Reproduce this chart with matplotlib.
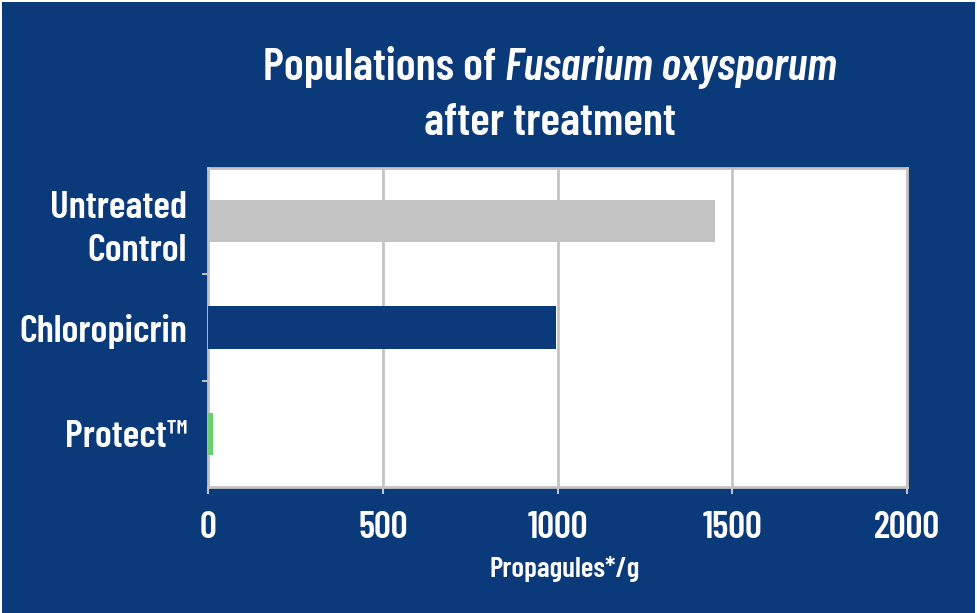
import matplotlib.pyplot as plt
from matplotlib.patches import Rectangle

# Data.
categories = ["Untreated\nControl", "Chloropicrin", "Protect\u2122"]
propagules = [1450, 995, 15]
bar_colors = ["#c3c3c3", "#0b3a7a", "#6ccf6c"]
x_ticks = [0, 500, 1000, 1500, 2000]

bg = "#0b3a7a"
grid_gray = "#c4c4c4"
plt.rcParams["font.family"] = ["Barlow Condensed", "DejaVu Sans"]

fig = plt.figure(figsize=(9.77, 6.13), dpi=100, facecolor="white")
# blue panel with a thin white edge at top and left
fig.patches.append(Rectangle((2 / 977, 0), 973 / 977, 611 / 613, transform=fig.transFigure,
                             facecolor=bg, edgecolor="none", zorder=-10))

ax = fig.add_axes([0.2129, 0.2055, 0.7155, 0.5204])
ax.set_facecolor("white")

ypos = [2, 1, 0]
ax.barh(ypos, propagules, height=0.4, color=bar_colors, zorder=3)
ax.set_xlim(0, 2000)
ax.set_ylim(-0.5, 2.5)
ax.set_xticks(x_ticks)
ax.set_xticklabels([str(t) for t in x_ticks], color="white", fontsize=27, fontweight="semibold")
ax.set_yticks(ypos)
ax.set_yticklabels(categories, color="white", fontsize=28, fontweight="semibold",
                   linespacing=1.35)
ax.tick_params(axis="y", length=0, pad=15)
ax.tick_params(axis="x", length=5, width=1.5, color=grid_gray, pad=12)
ax.set_yticks([0.5, 1.5], minor=True)
ax.tick_params(axis="y", which="minor", length=4, color="#bbbbbb", width=1.5)
ax.grid(axis="x", color=grid_gray, linewidth=2, zorder=0)
for s in ax.spines.values():
    s.set_color(grid_gray)
    s.set_linewidth(2)
ax.set_xlabel("Propagules*/g", color="white", fontsize=21, fontweight="semibold", labelpad=10)
ax.xaxis.set_label_coords(0.51, -0.215)

# Title with italic species name, centred as one line.
t1 = fig.text(0, 0.8695, "Populations of ", color="white", fontsize=33, fontweight="semibold",
              va="baseline")
t2 = fig.text(0, 0.8695, "Fusarium oxysporum", color="white", fontsize=33, fontweight="semibold",
              style="italic", va="baseline")
fig.text(0.563, 0.780, "after treatment", color="white", fontsize=33, fontweight="semibold",
         ha="center", va="baseline")
r = fig.canvas.get_renderer()
w1 = t1.get_window_extent(r).width / fig.bbox.width
w2 = t2.get_window_extent(r).width / fig.bbox.width
x0 = 0.563 - (w1 + w2) / 2
t1.set_x(x0)
t2.set_x(x0 + w1)

fig.savefig("out.png", dpi=100, facecolor="white")
